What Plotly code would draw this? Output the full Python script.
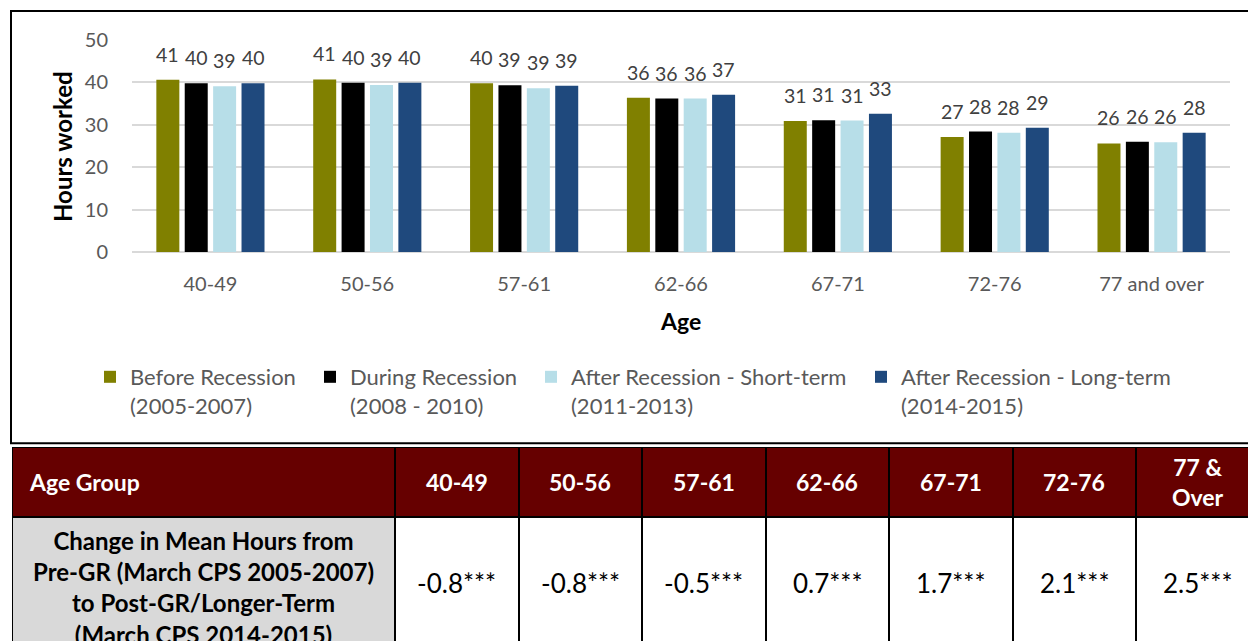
import plotly.graph_objects as go

# ---------------- data ----------------
age_groups = ["40-49", "50-56", "57-61", "62-66", "67-71", "72-76", "77 and over"]
series_names = [
    "Before Recession<br>(2005-2007)",
    "During Recession<br>(2008 - 2010)",
    "After Recession - Short-term<br>(2011-2013)",
    "After Recession - Long-term<br>(2014-2015)",
]
before_recession = [40.6, 40.7, 39.8, 36.4, 30.9, 27.1, 25.6]
during_recession = [39.8, 39.9, 39.3, 36.2, 31.1, 28.4, 26.0]
after_short_term = [39.1, 39.4, 38.6, 36.2, 31.0, 28.1, 25.9]
after_long_term = [39.8, 39.9, 39.2, 37.1, 32.6, 29.3, 28.1]
y_ticks = [0, 10, 20, 30, 40, 50]

table_header = ["Age Group", "40-49", "50-56", "57-61", "62-66", "67-71", "72-76", "77 &<br>Over"]
row_label = ("Change in Mean Hours from<br>Pre-GR (March CPS 2005-2007)<br>"
             "to Post-GR/Longer-Term<br>(March CPS 2014-2015)")
change_values = [-0.8, -0.8, -0.5, 0.7, 1.7, 2.1, 2.5]
significance = ["***", "***", "***", "***", "***", "***", "***"]

# ---------------- style / layout ----------------
W, H = 1248, 641
FONT = "Lato"
colors = ["#808000", "#000000", "#B7DEE8", "#1F497D"]
series_values = [before_recession, during_recession, after_short_term, after_long_term]
legend_text_x = [130, 350, 571, 901]   # left edge of each legend entry's text (px)

plot_left, plot_right, plot_top, plot_bottom = 132, 1230, 40, 252
BARGAP, BARGROUPGAP = 0.276, 0.19
cat_px = (plot_right - plot_left) / len(age_groups)
slot_px = cat_px * (1 - BARGAP) / len(series_values)
LABEL_GAP = 12

fig = go.Figure()

legend_ids = ["legend", "legend2", "legend3", "legend4"]
for name, vals, col, lg in zip(series_names, series_values, colors, legend_ids):
    fig.add_trace(go.Bar(
        x=age_groups, y=vals, name=name, marker=dict(color=col, line=dict(width=0)),
        hoverinfo="skip", legend=lg,
    ))

annotations = []
n = len(series_values)
for i, vals in enumerate(series_values):
    for cat, v in zip(age_groups, vals):
        annotations.append(dict(
            x=cat, y=v, xref="x", yref="y", text=f"{v:.0f}", showarrow=False,
            xanchor="center", yanchor="bottom", yshift=LABEL_GAP,
            xshift=(i - (n - 1) / 2) * slot_px,
            font=dict(family=FONT, size=19.5, color="#404040"),
        ))

# axis titles
annotations.append(dict(
    x=62 / W, y=1 - (plot_top + plot_bottom) / 2 / H, xref="paper", yref="paper",
    xanchor="center", yanchor="middle",
    text="<b>Hours worked</b>", textangle=-90, showarrow=False,
    font=dict(family=FONT, size=24, color="#000000"),
))
annotations.append(dict(
    x=(plot_left + plot_right) / 2 / W, y=1 - 321 / H, xref="paper", yref="paper",
    xanchor="center", yanchor="middle",
    text="<b>Age</b>", showarrow=False,
    font=dict(family=FONT, size=23, color="#000000"),
))

# ---------------- table (x2 / y2 in pixel-like units) ----------------
table_left, table_top = 12, 447
first_col_w, col_w = 383, 123.5
header_h, body_h = 70, 133
col_widths = [first_col_w] + [col_w] * (len(table_header) - 1)
x_edges = [0]
for w in col_widths:
    x_edges.append(x_edges[-1] + w)
y_edges = [0, header_h, header_h + body_h]

z = [[0] * len(table_header), [1] + [2] * (len(table_header) - 1)]
fig.add_trace(go.Heatmap(
    x=x_edges, y=y_edges, z=z, xaxis="x2", yaxis="y2",
    colorscale=[[0, "#660000"], [0.5, "#D9D9D9"], [1, "#FFFFFF"]],
    zmin=0, zmax=2, showscale=False, xgap=2, ygap=2, hoverinfo="skip",
    showlegend=False,
))

centers = [(x_edges[k] + x_edges[k + 1]) / 2 for k in range(len(col_widths))]
head_mid = (y_edges[0] + y_edges[1]) / 2
body_mid = (y_edges[1] + y_edges[2]) / 2

for k, txt in enumerate(table_header):
    if k == 0:
        annotations.append(dict(x=x_edges[0] + 15, y=head_mid, xref="x2", yref="y2",
                                text=f"<b>{txt}</b>", showarrow=False,
                                xanchor="left", yanchor="middle",
                                font=dict(family=FONT, size=23, color="#FFFFFF")))
    else:
        annotations.append(dict(x=centers[k], y=head_mid, xref="x2", yref="y2",
                                text=f"<b>{txt}</b>", showarrow=False,
                                xanchor="center", yanchor="middle",
                                font=dict(family=FONT, size=23, color="#FFFFFF")))

annotations.append(dict(x=centers[0], y=body_mid + 4, xref="x2", yref="y2",
                        text=f"<b>{row_label}</b>", showarrow=False,
                        xanchor="center", yanchor="middle",
                        font=dict(family=FONT, size=24, color="#000000")))
for k, (v, s) in enumerate(zip(change_values, significance), start=1):
    annotations.append(dict(x=centers[k], y=body_mid - 1, xref="x2", yref="y2",
                            text=f"{v:.1f}{s}", showarrow=False,
                            xanchor="center", yanchor="middle",
                            font=dict(family=FONT, size=26, color="#000000")))

shapes = [
    # chart-area border
    dict(type="rect", xref="paper", yref="paper", x0=11 / W, x1=1.02,
         y0=1 - 443.3 / H, y1=1 - 11 / H, line=dict(color="#000000", width=2),
         fillcolor="rgba(0,0,0,0)", layer="above"),
    # table grid background (shows through cell gaps as borders)
    dict(type="rect", xref="x2", yref="y2", x0=x_edges[0], x1=x_edges[-1],
         y0=y_edges[0], y1=y_edges[-1], line=dict(width=0), fillcolor="#000000",
         layer="below"),
]

legend_common = dict(
    orientation="h", xanchor="left", yanchor="top", valign="top",
    font=dict(family=FONT, size=22, color="#595959"),
    bgcolor="rgba(0,0,0,0)", borderwidth=0,
    y=1 - 356 / H,
)
legends = {}
for lg, tx in zip(legend_ids, legend_text_x):
    legends[lg] = dict(legend_common, x=(tx - 40) / W)

fig.update_layout(
    template="none",
    width=W, height=H, margin=dict(l=0, r=0, t=0, b=0, pad=0), autosize=False,
    paper_bgcolor="#FFFFFF", plot_bgcolor="#FFFFFF",
    barmode="group", bargap=BARGAP, bargroupgap=BARGROUPGAP,
    font=dict(family=FONT, color="#595959"),
    showlegend=True,
    xaxis=dict(
        domain=[plot_left / W, plot_right / W], anchor="y", automargin=False,
        showgrid=False, showline=False, zeroline=False, ticks="",
        tickfont=dict(family=FONT, size=20, color="#595959"),
        ticklabelstandoff=18, fixedrange=True,
    ),
    yaxis=dict(
        domain=[1 - plot_bottom / H, 1 - plot_top / H], anchor="x", automargin=False,
        range=[0, 50], tickvals=y_ticks, showgrid=True, gridcolor="#D9D9D9",
        gridwidth=1.5, zeroline=True, zerolinecolor="#D9D9D9", zerolinewidth=1.5,
        showline=False, ticks="",
        tickfont=dict(family=FONT, size=20, color="#595959"),
        ticklabelstandoff=23, fixedrange=True,
    ),
    xaxis2=dict(
        domain=[table_left / W, 1], anchor="y2", range=[0, W - table_left],
        visible=False, fixedrange=True, automargin=False,
    ),
    yaxis2=dict(
        domain=[0, 1 - table_top / H], anchor="x2", range=[H - table_top, 0],
        visible=False, fixedrange=True, automargin=False,
    ),
    annotations=annotations,
    shapes=shapes,
    **legends,
)

fig.write_html("out.html", config={"displayModeBar": False})
